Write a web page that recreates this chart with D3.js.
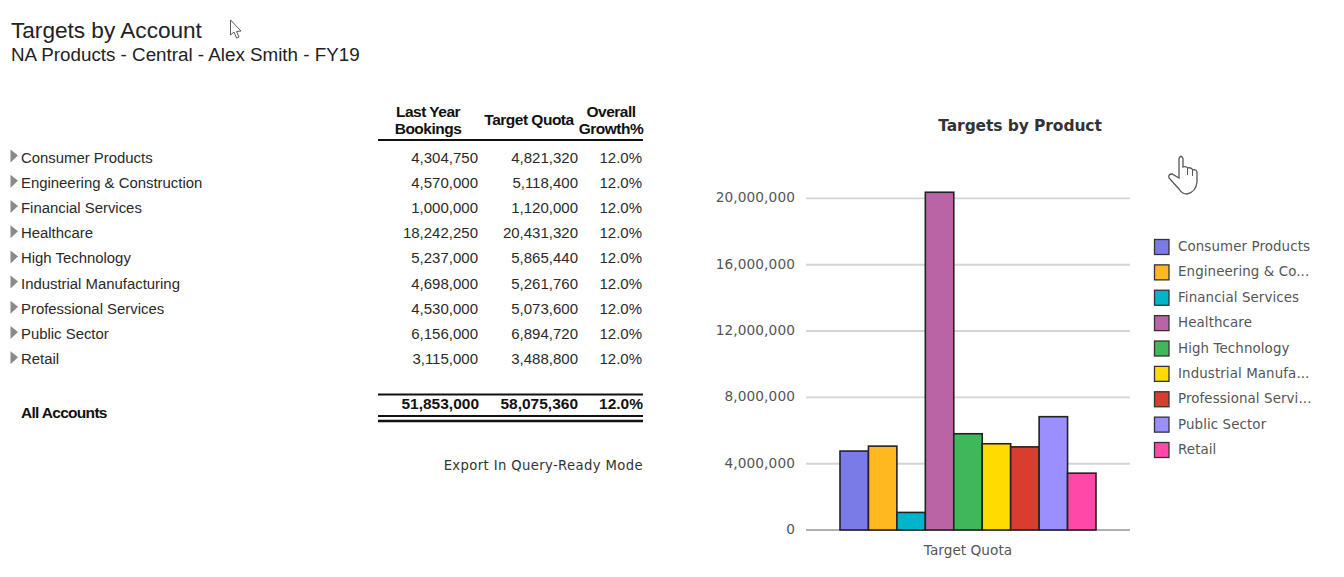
<!DOCTYPE html>
<html><head><meta charset="utf-8">
<script src="https://cdn.jsdelivr.net/npm/d3@7/dist/d3.min.js"></script>
<style>html,body{margin:0;padding:0;background:#fff}svg{display:block}</style></head>
<body><svg id="c" width="1344" height="577"></svg>
<script>
const accounts=["Consumer Products","Engineering & Construction","Financial Services","Healthcare","High Technology","Industrial Manufacturing","Professional Services","Public Sector","Retail"];
const legendLabels=["Consumer Products","Engineering & Co...","Financial Services","Healthcare","High Technology","Industrial Manufa...","Professional Servi...","Public Sector","Retail"];
const lastYear=[4304750,4570000,1000000,18242250,5237000,4698000,4530000,6156000,3115000];
const targetQuota=[4821320,5118400,1120000,20431320,5865440,5261760,5073600,6894720,3488800];
const growth=["12.0%","12.0%","12.0%","12.0%","12.0%","12.0%","12.0%","12.0%","12.0%"];
const totals=["51,853,000","58,075,360","12.0%"];
const yTicks=[0,4000000,8000000,12000000,16000000,20000000];
const colors=["#7b7be8","#ffb81f","#00b5c9","#bb64a5","#3fb85c","#ffdb00","#d93d2e","#9b8fff","#ff48a8"];

const svg=d3.select("#c");
const ARIAL="'Liberation Sans',Arial,sans-serif", CHART="'DejaVu Sans',sans-serif";
const fmt=d3.format(",");
const txt=(x,y,s,o={})=>svg.append("text").attr("x",x).attr("y",y+1).text(s)
  .attr("font-family",o.f||ARIAL).attr("font-size",o.s||14).attr("fill",o.c||"#222")
  .attr("font-weight",o.w||"normal").attr("text-anchor",o.a||"start").attr("dominant-baseline","middle")
  .attr("letter-spacing",o.l||0);

txt(11,31,"Targets by Account",{s:22.6,c:"#222"});
txt(11,54.7,"NA Products - Central - Alex Smith - FY19",{s:18.8,c:"#222"});

// table
const rowY=d3.scalePoint().domain(accounts).range([157.6,359.2]);
const B={s:15.5,w:"bold",c:"#111",l:-0.5};
txt(428,112,"Last Year",{...B,a:"middle"});
txt(428,129,"Bookings",{...B,a:"middle"});
txt(529,120,"Target Quota",{...B,a:"middle"});
txt(611,112,"Overall",{...B,a:"middle"});
txt(611,129,"Growth%",{...B,a:"middle"});
const rule=(y,w)=>svg.append("line").attr("x1",378).attr("x2",643).attr("y1",y).attr("y2",y).attr("stroke","#111").attr("stroke-width",w);
rule(140,2);
accounts.forEach((a,i)=>{
  const y=rowY(a);
  svg.append("path").attr("d",`M10.5 ${y-8}L18 ${y-2}L10.5 ${y+5}Z`).attr("fill","#8a8a8a");
  txt(21,y,a,{s:14.9,c:"#2a2a2a"});
  txt(478,y,fmt(lastYear[i]),{s:15,a:"end",c:"#2a2a2a"});
  txt(578,y,fmt(targetQuota[i]),{s:15,a:"end",c:"#2a2a2a"});
  txt(642,y,growth[i],{s:15,a:"end",c:"#2a2a2a"});
});
txt(21,413,"All Accounts",{...B,l:-0.7});
const T={s:15.5,w:"bold",c:"#111",a:"end",l:0};
txt(479,404,totals[0],T);txt(578,404,totals[1],T);txt(643,404,totals[2],T);
rule(394.5,2);rule(416,2);rule(421,2.5);
txt(643,465,"Export In Query-Ready Mode",{s:13.2,f:"'DejaVu Sans',sans-serif",a:"end",c:"#333",l:0.38});

// chart
const y=d3.scaleLinear().domain([0,20000000]).range([530,198.4]);
const x=d3.scaleBand().domain(accounts).range([840,1096]).padding(0);
txt(1020,125,"Targets by Product",{f:CHART,s:15.5,w:"bold",a:"middle",c:"#333",l:-0.1});
svg.append("g").selectAll("line").data(yTicks).join("line")
  .attr("x1",806).attr("x2",1130).attr("y1",d=>y(d)).attr("y2",d=>y(d))
  .attr("stroke",d=>d===0?"#b0b0b0":"#d4d4d4").attr("stroke-width",1.9);
yTicks.forEach(t=>txt(795,y(t)-1,fmt(t),{f:CHART,s:13.7,a:"end",c:"#555",l:0.1}));
svg.append("g").selectAll("rect").data(targetQuota).join("rect")
  .attr("x",(d,i)=>x(accounts[i])).attr("width",x.bandwidth())
  .attr("y",d=>y(d)+1).attr("height",d=>y(0)-y(d)-1)
  .attr("fill",(d,i)=>colors[i]).attr("stroke","#222").attr("stroke-width",1.6);
txt(968,550,"Target Quota",{f:CHART,s:13.7,a:"middle",c:"#555"});

// legend
const ly=d3.scalePoint().domain(legendLabels).range([247,450]);
legendLabels.forEach((l,i)=>{
  const yy=ly(l);
  svg.append("rect").attr("x",1154.5).attr("y",yy-7.5).attr("width",14.5).attr("height",15)
    .attr("fill",colors[i]).attr("stroke","#333").attr("stroke-width",1.3);
  txt(1178,yy-1,l,{f:CHART,s:13.4,c:"#555",l:0.1});
});

// cursors captured in the screenshot
svg.append("path").attr("d","M230.5 20V35L234 32L236.5 38L239 37L236.5 31.5L241 31Z")
  .attr("fill","#fff").attr("stroke","#555").attr("stroke-width",1);
svg.append("path").attr("d","M1179 178V158.5Q1181 154 1183 158.5V167Q1186 166 1188 168Q1191 167 1193 170Q1196 169 1197 172V182Q1196 192 1187 194Q1182 194 1179 189L1169 178Q1168 174 1172 174Z")
  .attr("fill","#fff").attr("stroke","#555").attr("stroke-width",1.3);
svg.append("path").attr("d","M1187.5 168V175M1192.5 170V176").attr("fill","none").attr("stroke","#555").attr("stroke-width",1);
</script></body></html>
